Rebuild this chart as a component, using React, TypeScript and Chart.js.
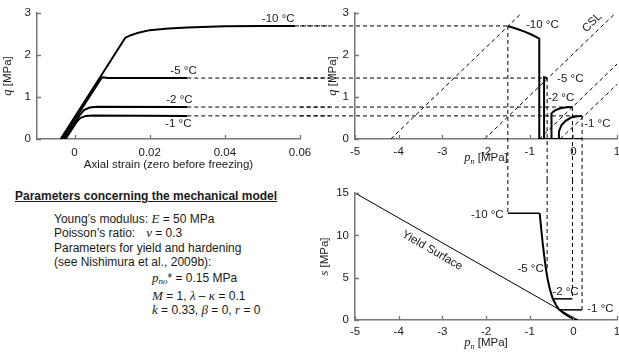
import React, { useEffect, useRef } from 'react';
import { Chart, registerables } from 'chart.js';
Chart.register(...registerables);

// ---------- tick values ----------
const strainTicks = [0, 0.02, 0.04, 0.06];
const qTicks = [0, 1, 2, 3];
const pTicks = [-5, -4, -3, -2, -1, 0, 1];
const sTicks = [0, 5, 10, 15];

const tempNames = ['-10 °C', '-5 °C', '-2 °C', '-1 °C'];

// ---------- top-left: q vs axial strain ----------
const strainM10 = [-0.0037, 0.0135, 0.015, 0.017, 0.02, 0.025, 0.03, 0.04, 0.05, 0.0587];
const qStrainM10 = [0, 2.41, 2.47, 2.53, 2.59, 2.63, 2.65, 2.68, 2.69, 2.69];
const strainM5 = [-0.0033, 0.0073, 0.009, 0.03];
const qStrainM5 = [0, 1.47, 1.45, 1.45];
const strainM2 = [-0.0028, 0.0012, 0.0025, 0.004, 0.006, 0.03];
const qStrainM2 = [0, 0.55, 0.69, 0.75, 0.77, 0.76];
const strainM1 = [-0.0024, 0.0005, 0.0015, 0.003, 0.005, 0.03];
const qStrainM1 = [0, 0.4, 0.5, 0.55, 0.56, 0.55];
const curveEndStrain = [0.0587, 0.03, 0.03, 0.03];

// peak (end) states
const peakP = [-1.5, -0.6, -0.02, 0.2];
const peakQ = [2.69, 1.45, 0.76, 0.55];

// ---------- top-right: q vs p_n ----------
const pPathM10 = [0.2, -0.78, -0.78, -0.95, -1.13, -1.32, -1.5];
const qPathM10 = [0, 0, 2.39, 2.48, 2.56, 2.63, 2.69];
const pPathM5 = [-0.67, -0.67, -0.6];
const qPathM5 = [0, 1.47, 1.45];
const pPathM2 = [-0.5, -0.5, -0.42, -0.3, -0.15, -0.02];
const qPathM2 = [0, 0.61, 0.68, 0.73, 0.755, 0.76];
const pPathM1 = [-0.35, -0.33, -0.27, -0.17, -0.05, 0.08, 0.2];
const qPathM1 = [0, 0.18, 0.33, 0.44, 0.51, 0.54, 0.55];
const cslP = [[-4.18, -1.18], [-2.03, 0.97], [-0.78, 1], [-0.3, 1]];
const cslQ = [[0, 3], [0, 3], [0, 1.78], [0, 1.3]];

// ---------- bottom-right: s vs p_n ----------
const yieldP = [-5, 0.1];
const yieldS = [15, 0];
const freezeP = [-0.77, -0.74, -0.7, -0.66, -0.63, -0.58, -0.53, -0.47, -0.4, -0.33, -0.22, -0.1, 0.02, 0.1];
const freezeS = [12.6, 11, 9, 7.3, 6.1, 4.6, 3.5, 2.5, 1.8, 1.25, 0.8, 0.4, 0.1, 0];
const sLevel = [12.6, 6.1, 2.5, 1.2];
const sStartP = [-0.77, -0.63, -0.47, -0.33];

// ---------- helpers ----------
const SANS = '"Liberation Sans", Arial, sans-serif';
const SERIF = '"Liberation Serif", "Times New Roman", serif';
const FS = 11.5;
const TXT = '#1a1a1a';

const zip = (xs: number[], ys: number[]) => xs.map((x, i) => ({ x, y: ys[i] }));

type Seg = { t: string; it?: boolean; sub?: boolean };

function drawRich(ctx: CanvasRenderingContext2D, segs: Seg[], x: number, y: number, size: number, rot = 0) {
  const fontFor = (s: Seg) => {
    const sz = s.sub ? size * 0.72 : s.it ? size + 1 : size;
    return s.it ? `italic ${sz}px ${SERIF}` : `${sz}px ${SANS}`;
  };
  ctx.save();
  ctx.translate(x, y);
  ctx.rotate((rot * Math.PI) / 180);
  let w = 0;
  for (const s of segs) { ctx.font = fontFor(s); w += ctx.measureText(s.t).width; }
  let cx = -w / 2;
  ctx.textBaseline = 'middle';
  ctx.textAlign = 'left';
  ctx.fillStyle = TXT;
  for (const s of segs) {
    ctx.font = fontFor(s);
    ctx.fillText(s.t, cx, s.sub ? size * 0.3 : 0);
    cx += ctx.measureText(s.t).width;
  }
  ctx.restore();
}

const decor = {
  id: 'decor',
  beforeDatasetsDraw(chart: any, _a: any, opts: any) {
    const ctx = chart.ctx as CanvasRenderingContext2D;
    const xs = chart.scales.x, ys = chart.scales.y;
    const W = chart.width, H = chart.height;
    const rx = (v: any) => (v === 'left' ? 0 : v === 'right' ? W : xs.getPixelForValue(v));
    const ry = (v: any) => (v === 'top' ? 0 : v === 'bottom' ? H : ys.getPixelForValue(v));
    ctx.save();
    ctx.setLineDash([4, 3]);
    ctx.strokeStyle = '#000';
    ctx.lineWidth = 1;
    for (const g of opts.guides || []) {
      ctx.beginPath();
      ctx.moveTo(rx(g.x1), ry(g.y1));
      ctx.lineTo(rx(g.x2), ry(g.y2));
      ctx.stroke();
    }
    ctx.restore();
  },
  afterDatasetsDraw(chart: any, _a: any, opts: any) {
    const ctx = chart.ctx as CanvasRenderingContext2D;
    const xs = chart.scales.x, ys = chart.scales.y;
    const ca = chart.chartArea;
    // inward tick marks
    ctx.save();
    ctx.strokeStyle = '#777';
    ctx.lineWidth = 1.3;
    ctx.beginPath();
    for (const t of xs.ticks) {
      const px = Math.round(xs.getPixelForValue(t.value)) + 0.5;
      ctx.moveTo(px, ca.bottom);
      ctx.lineTo(px, ca.bottom - 4);
    }
    for (const t of ys.ticks) {
      const py = Math.round(ys.getPixelForValue(t.value)) + 0.5;
      ctx.moveTo(ca.left, py);
      ctx.lineTo(ca.left + 4, py);
    }
    ctx.stroke();
    ctx.restore();
    // labels
    for (const l of opts.labels || []) {
      drawRich(ctx, l.segs || [{ t: l.t }], xs.getPixelForValue(l.x), ys.getPixelForValue(l.y), FS, l.rot || 0);
    }
    // axis titles
    if (opts.xTitle) drawRich(ctx, opts.xTitle.segs, (ca.left + ca.right) / 2, ca.bottom + opts.xTitle.dy, FS);
    if (opts.yTitle) drawRich(ctx, opts.yTitle.segs, ca.left - opts.yTitle.dx, (ca.top + ca.bottom) / 2, FS, -90);
  },
};

function scale(min: number, max: number, vals: number[], axis: 'x' | 'y', size: number, pad: number) {
  return {
    type: 'linear',
    min,
    max,
    afterBuildTicks: (s: any) => { s.ticks = vals.map((v) => ({ value: v })); },
    afterFit: (s: any) => { if (axis === 'x') s.height = size; else s.width = size; },
    grid: { display: false, drawTicks: false },
    border: { display: true, color: '#777', width: 1.5 },
    ticks: {
      font: { family: SANS, size: FS },
      color: TXT,
      padding: pad,
      maxRotation: 0,
      autoSkip: false,
      callback: (v: any) => String(v),
    },
    title: { display: false },
  };
}

const solid = (data: any[], w = 2) => ({
  data, borderColor: '#000', borderWidth: w, pointRadius: 0, tension: 0, fill: false, showLine: true,
});
const dashed = (data: any[]) => ({ ...solid(data, 1), borderDash: [4, 3] });

function baseConfig(datasets: any[], scales: any, padding: any, decorOpts: any) {
  return {
    type: 'line',
    data: { datasets },
    options: {
      animation: false,
      responsive: false,
      events: [],
      layout: { padding },
      scales,
      plugins: { legend: { display: false }, tooltip: { enabled: false }, decor: decorOpts },
    },
    plugins: [decor],
  } as any;
}

const pTitle: Seg[] = [{ t: 'p', it: true }, { t: 'n', it: true, sub: true }, { t: ' [MPa]' }];

function configA() {
  const ds = [
    solid(zip(strainM10, qStrainM10)),
    solid(zip(strainM5, qStrainM5)),
    solid(zip(strainM2, qStrainM2)),
    solid(zip(strainM1, qStrainM1)),
  ];
  const guides = peakQ.map((q, i) => ({ x1: curveEndStrain[i], y1: q, x2: 'right', y2: q }));
  const labelPos = [[0.0542, 2.86], [0.029, 1.63], [0.0279, 0.94], [0.0276, 0.35]];
  return baseConfig(
    ds,
    { x: scale(-0.01, 0.06, strainTicks, 'x', 41, 7), y: scale(0, 3, qTicks, 'y', 37, 6) },
    { left: 0, right: 30, top: 12, bottom: 0 },
    {
      guides,
      labels: tempNames.map((t, i) => ({ t, x: labelPos[i][0], y: labelPos[i][1] })),
      xTitle: { segs: [{ t: 'Axial strain (zero before freezing)' }], dy: 26 },
      yTitle: { segs: [{ t: 'q', it: true }, { t: ' [MPa]' }], dx: 29 },
    }
  );
}

function configB() {
  const ds = [
    ...cslP.map((ps, i) => dashed(zip(ps, cslQ[i]))),
    solid(zip(pPathM10, qPathM10)),
    solid(zip(pPathM5, qPathM5)),
    solid(zip(pPathM2, qPathM2)),
    solid(zip(pPathM1, qPathM1)),
  ];
  const guides = [
    ...peakP.map((p, i) => ({ x1: 'left', y1: peakQ[i], x2: p, y2: peakQ[i] })),
    ...peakP.map((p, i) => ({ x1: p, y1: peakQ[i], x2: p, y2: 'bottom' })),
  ];
  const labelPos = [[-0.71, 2.72], [-0.07, 1.44], [-0.28, 0.98], [0.55, 0.35]];
  return baseConfig(
    ds,
    { x: scale(-5, 1, pTicks, 'x', 41, 6), y: scale(0, 3, qTicks, 'y', 55, 6) },
    { left: 0, right: 13, top: 12, bottom: 0 },
    {
      guides,
      labels: [
        ...tempNames.map((t, i) => ({ t, x: labelPos[i][0], y: labelPos[i][1] })),
        { t: 'CSL', x: 0.43, y: 2.77, rot: -45 },
      ],
      xTitle: { segs: pTitle, dy: 19 },
      yTitle: { segs: [{ t: 'q', it: true }, { t: ' [MPa]' }], dx: 22 },
    }
  );
}

function configC() {
  const ds = [
    solid(zip(yieldP, yieldS), 1),
    solid(zip(freezeP, freezeS), 2),
    ...sLevel.map((s, i) => solid(zip([peakP[i], sStartP[i]], [s, s]), 1.5)),
  ];
  const guides = peakP.map((p, i) => ({ x1: p, y1: 'top', x2: p, y2: sLevel[i] }));
  const labelPos = [[-1.97, 12.4], [-0.98, 6.1], [-0.18, 3.35], [0.62, 1.3]];
  return baseConfig(
    ds,
    { x: scale(-5, 1, pTicks, 'x', 35, 5), y: scale(0, 15, sTicks, 'y', 55, 6) },
    { left: 0, right: 13, top: 13, bottom: 0 },
    {
      guides,
      labels: [
        ...tempNames.map((t, i) => ({ t, x: labelPos[i][0], y: labelPos[i][1] })),
        { t: 'Yield Surface', x: -3.23, y: 8.2, rot: 30 },
      ],
      xTitle: { segs: pTitle, dy: 23 },
      yTitle: { segs: [{ t: 's', it: true }, { t: ' [MPa]' }], dx: 30 },
    }
  );
}

function ChartBox({ left, top, w, h, build }: { left: number; top: number; w: number; h: number; build: () => any }) {
  const ref = useRef<HTMLCanvasElement>(null);
  useEffect(() => {
    const chart = new Chart(ref.current as HTMLCanvasElement, build());
    return () => chart.destroy();
  }, []);
  return (
    <canvas
      ref={ref}
      width={w}
      height={h}
      style={{ position: 'absolute', left, top, width: w, height: h }}
    />
  );
}

const it: React.CSSProperties = { fontFamily: SERIF, fontStyle: 'italic', fontSize: 13 };

export default function App() {
  return (
    <div
      style={{
        position: 'absolute', left: 0, top: 0, width: 619, height: 355, overflow: 'hidden',
        background: '#fff', fontFamily: SANS, color: TXT,
      }}
    >
      <ChartBox left={0} top={0} w={330} h={180} build={configA} />
      <ChartBox left={300} top={0} w={330} h={180} build={configB} />
      <ChartBox left={300} top={180} w={330} h={175} build={configC} />

      <div
        style={{
          position: 'absolute', left: 15, top: 189, fontSize: 12, fontWeight: 'bold',
          textDecoration: 'underline', lineHeight: '14px', whiteSpace: 'nowrap',
        }}
      >
        Parameters concerning the mechanical model
      </div>
      <div style={{ position: 'absolute', left: 54, top: 212, fontSize: 12, lineHeight: '14.4px', whiteSpace: 'nowrap' }}>
        <div>Young’s modulus: <span style={it}>E</span> = 50 MPa</div>
        <div>Poisson’s ratio:<span style={{ display: 'inline-block', width: 11 }} /><span style={it}>ν</span> = 0.3</div>
        <div>Parameters for yield and hardening</div>
        <div>(see Nishimura et al., 2009b):</div>
      </div>
      <div style={{ position: 'absolute', left: 152, top: 271, fontSize: 12, lineHeight: '14.5px', whiteSpace: 'nowrap' }}>
        <div>
          <span style={it}>p</span>
          <span style={{ ...it, fontSize: 9, verticalAlign: -2 }}>no</span>* = 0.15 MPa
        </div>
        <div><span style={it}>M</span> = 1, <span style={it}>λ</span> – <span style={it}>κ</span> = 0.1</div>
        <div><span style={it}>k</span> = 0.33, <span style={it}>β</span> = 0, <span style={it}>r</span> = 0</div>
      </div>
    </div>
  );
}
